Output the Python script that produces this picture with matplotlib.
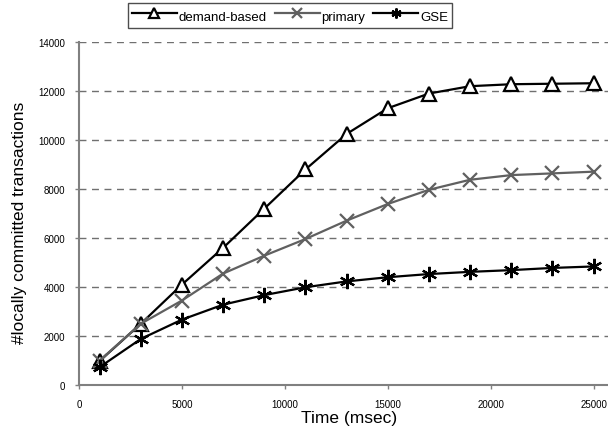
import matplotlib
matplotlib.use("Agg")
import matplotlib.pyplot as plt

time_ms = [1000, 3000, 5000, 7000, 9000, 11000, 13000, 15000, 17000, 19000, 21000, 23000, 25000]
demand_based = [980, 2500, 4100, 5600, 7200, 8800, 10250, 11300, 11900, 12200, 12280, 12300, 12320]
primary = [1000, 2500, 3450, 4550, 5280, 5960, 6710, 7390, 7970, 8380, 8570, 8640, 8710]
gse = [730, 1880, 2670, 3280, 3670, 3990, 4230, 4400, 4530, 4620, 4690, 4780, 4840]

x_ticks = [0, 5000, 10000, 15000, 20000, 25000]
y_ticks = [0, 2000, 4000, 6000, 8000, 10000, 12000, 14000]

plt.rcParams['font.family'] = ['Liberation Sans', 'DejaVu Sans']

fig = plt.figure(figsize=(6.08, 4.31), dpi=100)
ax = fig.add_axes([0.130, 0.1044, 0.870, 0.7956])

ax.plot(time_ms, demand_based, color='black', lw=1.6, marker='^', ms=10.5,
        mfc='white', mec='black', mew=1.6, label='demand-based', zorder=3)
ax.plot(time_ms, primary, color='#606060', lw=1.6, marker='x', ms=10,
        mec='#606060', mew=1.6, label='primary', zorder=3)
ax.plot(time_ms, gse, color='black', lw=1.6, marker=(6, 2, 0), ms=11,
        mec='black', mew=1.6, label='GSE', zorder=3)

ax.set_xlim(0, 25700)
ax.set_ylim(0, 14000)
ax.set_xticks(x_ticks)
ax.set_yticks(y_ticks)
ax.tick_params(labelsize=7, colors='#808080', labelcolor='black', length=3, width=1)
ax.tick_params(axis='x', pad=7)
ax.tick_params(axis='y', pad=7)
ax.yaxis.grid(True, linestyle=(0, (5, 4)), color='#707070', lw=1)
ax.set_axisbelow(True)
for s in ['top', 'right']:
    ax.spines[s].set_visible(False)
for s in ['left', 'bottom']:
    ax.spines[s].set_color('#808080')
    ax.spines[s].set_linewidth(1.5)

ax.set_xlabel('Time (msec)', fontsize=12.5)
ax.set_ylabel('#locally committed transactions', fontsize=12.5)
ax.xaxis.set_label_coords(0.51, -0.072)
ax.yaxis.set_label_coords(-0.098, 0.475)

leg = fig.legend(loc='upper center', bbox_to_anchor=(0.477, 1.006), ncol=3,
                 fontsize=9.5, frameon=True, fancybox=False, edgecolor='#202020',
                 handlelength=3.4, handletextpad=0.15, columnspacing=0.6,
                 borderpad=0.3, handleheight=1.6, markerscale=0.65)
leg.get_frame().set_linewidth(1.0)

fig.savefig('out.png', dpi=100)
